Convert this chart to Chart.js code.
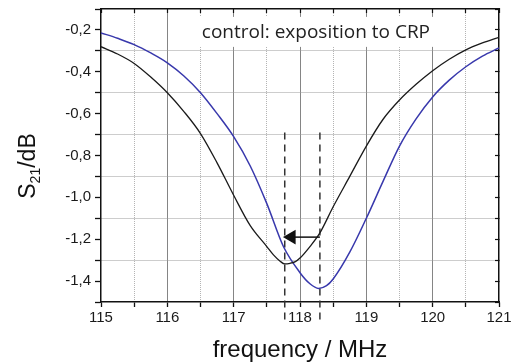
<!DOCTYPE html>
<html>
<head>
<meta charset="utf-8">
<script src="https://cdn.jsdelivr.net/npm/chart.js@4/dist/chart.umd.min.js"></script>
<style>
  html, body { margin: 0; padding: 0; background: #fff; }
  #wrap { width: 513px; height: 362px; }
</style>
</head>
<body>
<div id="wrap"><canvas id="resonance"></canvas></div>
<script>
// S21 transmission dip, before (black) and after (blue) exposition to CRP
const freqControl = [115, 115.25, 115.5, 115.75, 116, 116.25, 116.5, 116.75, 117, 117.25, 117.5, 117.6, 117.7, 117.77, 117.85, 117.93, 118, 118.15, 118.3, 118.5, 118.75, 119, 119.25, 119.5, 119.75, 120, 120.25, 120.5, 120.75, 121];
const s21Control = [-0.28, -0.315, -0.36, -0.425, -0.5, -0.59, -0.695, -0.835, -0.99, -1.135, -1.235, -1.275, -1.305, -1.318, -1.315, -1.307, -1.29, -1.235, -1.17, -1.045, -0.9, -0.755, -0.628, -0.535, -0.46, -0.395, -0.34, -0.295, -0.262, -0.235];

const freqCrp = [115, 115.25, 115.5, 115.75, 116, 116.25, 116.5, 116.75, 117, 117.25, 117.5, 117.75, 118, 118.15, 118.28, 118.4, 118.5, 118.75, 119, 119.25, 119.5, 119.75, 120, 120.25, 120.5, 120.75, 121];
const s21Crp = [-0.214, -0.24, -0.27, -0.31, -0.357, -0.42, -0.5, -0.6, -0.71, -0.85, -1.03, -1.235, -1.36, -1.413, -1.435, -1.422, -1.39, -1.262, -1.1, -0.925, -0.755, -0.625, -0.52, -0.44, -0.376, -0.325, -0.286];

// resonance minima marked by dashed lines, arrow shows the shift
const minFreqs = [117.77, 118.3];
const dashRange = [-0.69, -1.595];
const arrowFreqs = [118.3, 117.87];
const arrowLevel = -1.19;

const xRange = [115, 121];
const yRange = [-1.5, -0.1];
const annotationText = 'control: exposition to CRP';

const pts = (xs, ys) => xs.map((x, i) => ({x: x, y: ys[i]}));
const tenths = v => Math.round(v * 10);
const isWhole = v => Math.abs(v - Math.round(v)) < 1e-6;

// white-boxed note inside the plot, plus the S21 axis label with a real subscript
const textPlugin = {
  id: 'texts',
  beforeDatasetsDraw(chart) {
    const {ctx, scales} = chart;
    const cx = scales.x.getPixelForValue(118.24);
    const by = scales.y.getPixelForValue(-0.238);
    ctx.save();
    ctx.font = '19px "Open Sans"';
    const w = ctx.measureText(annotationText).width;
    ctx.fillStyle = '#fff';
    ctx.fillRect(cx - w / 2 - 5, by - 21, w + 10, 30);
    ctx.fillStyle = '#222';
    ctx.textAlign = 'center';
    ctx.textBaseline = 'alphabetic';
    ctx.fillText(annotationText, cx, by);
    ctx.restore();
  },
  afterDraw(chart) {
    const ctx = chart.ctx;
    ctx.save();
    ctx.translate(35, 166);
    ctx.rotate(-Math.PI / 2);
    ctx.fillStyle = '#111';
    ctx.textBaseline = 'alphabetic';
    const big = '23px "Liberation Sans"', small = '14px "Liberation Sans"';
    ctx.font = big; const wS = ctx.measureText('S').width; const wB = ctx.measureText('/dB').width;
    ctx.font = small; const w21 = ctx.measureText('21').width;
    let x0 = -(wS + w21 + wB) / 2;
    ctx.font = big; ctx.fillText('S', x0, 0);
    ctx.font = small; ctx.fillText('21', x0 + wS, 5);
    ctx.font = big; ctx.fillText('/dB', x0 + wS + w21, 0);
    ctx.restore();
  }
};

const dashStyle = {
  borderColor: '#333', borderWidth: 1.5, borderDash: [7, 5],
  pointRadius: 0, fill: false, order: 3, clip: false
};

// fixed plot box: left 101, right 499, top 9, bottom 302
const noPad = s => { s.paddingTop = 0; s.paddingBottom = 0; s.paddingLeft = 0; s.paddingRight = 0; };

new Chart(document.getElementById('resonance'), {
  type: 'line',
  data: {
    datasets: [
      {
        label: 'control',
        data: pts(freqControl, s21Control),
        borderColor: '#1a1a1a', borderWidth: 1.3,
        pointRadius: 0, cubicInterpolationMode: 'monotone', order: 1
      },
      {
        label: 'CRP',
        data: pts(freqCrp, s21Crp),
        borderColor: '#3838ac', borderWidth: 1.5,
        pointRadius: 0, cubicInterpolationMode: 'monotone', order: 2
      },
      Object.assign({label: 'min control', data: pts([minFreqs[0], minFreqs[0]], dashRange)}, dashStyle),
      Object.assign({label: 'min CRP', data: pts([minFreqs[1], minFreqs[1]], dashRange)}, dashStyle),
      {
        label: 'shift',
        data: pts(arrowFreqs, [arrowLevel, arrowLevel]),
        borderColor: '#111', borderWidth: 1.5,
        pointStyle: 'triangle', rotation: 270,
        pointRadius: [0, 7], pointBackgroundColor: '#111', pointBorderColor: '#111',
        order: 0
      }
    ]
  },
  options: {
    responsive: true,
    maintainAspectRatio: false,
    animation: false,
    layout: { padding: { left: 0, right: 14, top: 9, bottom: 0 } },
    plugins: {
      legend: { display: false },
      tooltip: { enabled: false }
    },
    scales: {
      x: {
        type: 'linear', position: 'bottom',
        min: xRange[0], max: xRange[1],
        afterFit: s => { s.height = 60; noPad(s); },
        ticks: {
          stepSize: 0.5, autoSkip: false, maxRotation: 0, padding: 2,
          color: '#1a1a1a', font: { size: 15, family: '"Liberation Sans"' },
          callback: v => isWhole(v) ? String(Math.round(v)) : ''
        },
        grid: {
          tickLength: 5, tickColor: '#111', tickWidth: 1.3,
          color: c => (c.tick.value === xRange[0] || c.tick.value === xRange[1]) ? 'rgba(0,0,0,0)'
                      : (isWhole(c.tick.value) ? '#858585' : '#b4b4b4'),
          lineWidth: 1
        },
        border: {
          display: true, color: '#111', width: 1.5,
          dash: c => (c.tick && !isWhole(c.tick.value)) ? [1, 1] : []
        },
        title: {
          display: true, text: 'frequency / MHz', color: '#111',
          font: { size: 24, family: '"Liberation Sans"', lineHeight: 1.0 },
          padding: { top: 0, bottom: 0 }
        }
      },
      xTop: {
        type: 'linear', position: 'top',
        min: xRange[0], max: xRange[1],
        afterFit: s => { s.height = 0; noPad(s); },
        ticks: { display: false, stepSize: 0.5 },
        grid: { drawOnChartArea: false, tickLength: -4, tickColor: '#111', tickWidth: 1.2 },
        border: { display: true, color: '#111', width: 1.5 }
      },
      y: {
        type: 'linear', position: 'left',
        min: yRange[0], max: yRange[1],
        afterFit: s => { s.width = 101; noPad(s); },
        ticks: {
          stepSize: 0.1, autoSkip: false, padding: 4,
          color: '#1a1a1a', font: { size: 15, family: '"Liberation Sans"' },
          callback: v => tenths(v) % 2 === 0 ? v.toFixed(1).replace('.', ',') : ''
        },
        grid: {
          tickLength: 6, tickColor: '#111', tickWidth: 1.3,
          color: c => {
            const t = tenths(c.tick.value);
            if (t === tenths(yRange[0]) || t === tenths(yRange[1]) || t % 2 === 0) return 'rgba(0,0,0,0)';
            return '#9a9a9a';
          },
          lineWidth: 1
        },
        border: {
          display: true, color: '#111', width: 1.5,
          dash: c => c.tick ? [1, 1] : []
        },
        title: { display: false }
      },
      yRight: {
        type: 'linear', position: 'right',
        min: yRange[0], max: yRange[1],
        afterFit: s => { s.width = 0; noPad(s); },
        ticks: { display: false, stepSize: 0.1 },
        grid: { drawOnChartArea: false, tickLength: -4, tickColor: '#111', tickWidth: 1.2 },
        border: { display: true, color: '#111', width: 1.5 }
      }
    }
  },
  plugins: [textPlugin]
});
</script>
</body>
</html>
